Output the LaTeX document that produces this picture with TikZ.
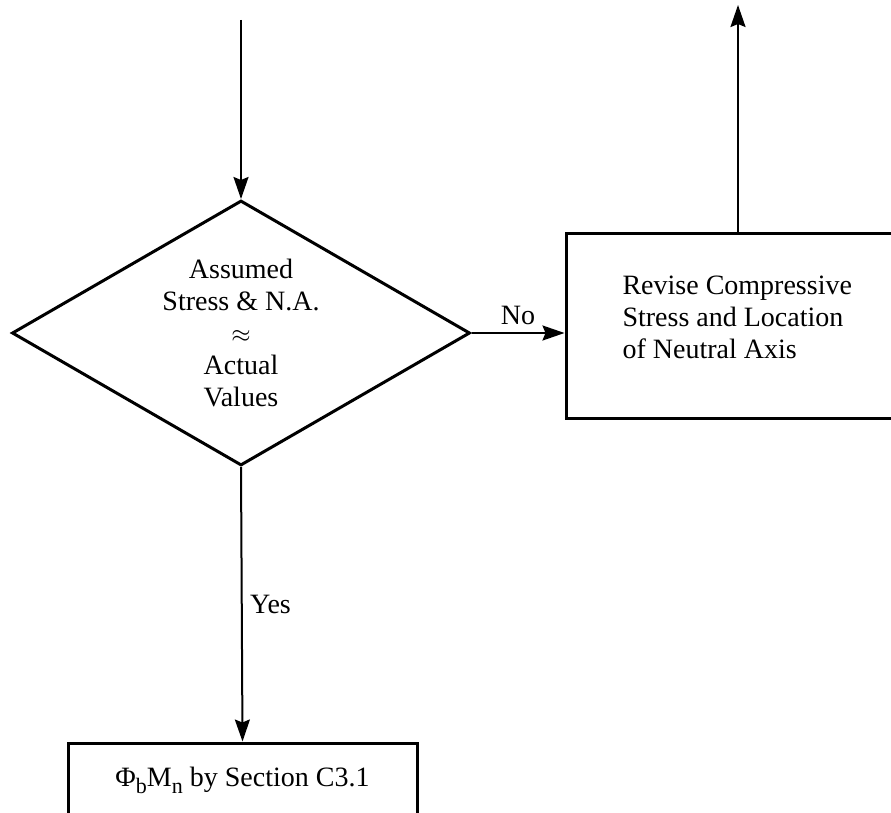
\documentclass[tikz,border=0pt]{standalone}
\usepackage{fontspec}
\setmainfont{Liberation Serif}
\usetikzlibrary{arrows.meta,shapes.geometric}

\newcommand{\lowsub}[1]{\raisebox{-7pt}{\fontsize{22}{22}\selectfont #1}}

\begin{document}
\begin{tikzpicture}[x=1pt,y=-1pt,
		font=\fontsize{28}{32}\selectfont,
		every node/.style={align=center},
		blk/.style={draw,line width=3pt,inner sep=0pt},
		test/.style={draw,diamond,line width=3pt,inner sep=-6pt,aspect=1.73},
		line/.style={line width=2pt,-{Stealth[length=22pt,width=15pt,inset=3pt]}}]
		\useasboundingbox (0,0) rectangle (891,813);
		\clip (0,0) rectangle (891,813);
		%
		\coordinate (in) at (241,20);
		\coordinate (out) at (738,5);
		\node[test,minimum width=458pt,minimum height=265pt] (D) at (241,333)
			{Assumed\\Stress \& N.A.\\$\approx$\\Actual\\Values};
		\node[blk,minimum width=394pt,minimum height=185pt] (R) at (763,325.5) {};
		\node[align=left,anchor=north west] (Rt) at (619,272)
			{Revise Compressive\\Stress and Location\\of Neutral Axis};
		\node[blk,minimum width=349pt,minimum height=74pt] (S) at (242.5,780)
			{Φ\lowsub{b}M\lowsub{n} by Section C3.1};
		%
		\path[line]
		(in) edge (D.north)
		(D.east) edge node[above,yshift=4pt]{No} (D.east -| R.west)
		(D.south) edge node[right,pos=0.5,xshift=4pt]{Yes} (S.north)
		(out |- R.north) edge (out);
\end{tikzpicture}
\end{document}
